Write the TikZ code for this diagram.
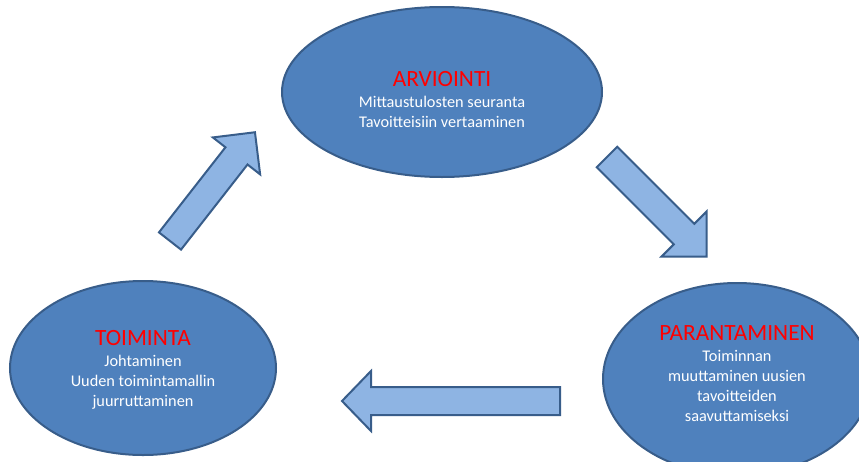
\documentclass[tikz,border=0pt]{standalone}
\usepackage{fontspec}
\setmainfont{Carlito}
\usetikzlibrary{shapes.geometric}
\definecolor{ovalfill}{RGB}{79,129,189}
\definecolor{ovaledge}{RGB}{56,93,138}
\definecolor{arrowfill}{RGB}{142,180,227}
\definecolor{titlered}{RGB}{255,0,0}
\tikzset{
  oval/.style={ellipse, draw=ovaledge, fill=ovalfill, line width=2pt, inner sep=0pt},
  ovaltext/.style={align=center, text=white, font=\fontsize{16.3}{20}\selectfont, inner sep=0pt},
  blockarrow/.style={draw=ovaledge, fill=arrowfill, line width=2pt, line join=miter},
}
% block arrow: #1 tail midpoint, #2 angle, #3 length, #4 head length, #5 head half-width, #6 shaft half-width
\newcommand\blockarrow[6]{%
  \begin{scope}[shift={#1}, rotate=#2]
    \draw[blockarrow] (0,-#6) -- ({#3-#4},-#6) -- ({#3-#4},-#5) -- (#3,0)
      -- ({#3-#4},#5) -- ({#3-#4},#6) -- (0,#6) -- cycle;
  \end{scope}}
\newcommand\ttl[1]{{\fontsize{23.3}{24}\selectfont\color{titlered}#1}}
\begin{document}
\begin{tikzpicture}[x=1pt, y=-1pt]
  \useasboundingbox (0,0) rectangle (859,461);
  \clip (0,0) rectangle (859,461);
  \fill[white] (0,0) rectangle (859,461);

  % the three stages
  \node[oval, minimum width=320pt, minimum height=170pt] (arv) at (442,92) {};
  \node[oval, minimum width=266pt, minimum height=174pt] (toi) at (143,368) {};
  \node[oval, minimum width=268pt, minimum height=192pt] (par) at (737,379) {};

  \node[ovaltext] (arvt) at (442,99) {\ttl{ARVIOINTI}\\[1pt]Mittaustulosten seuranta\\Tavoitteisiin vertaaminen};
  \node[ovaltext] (toit) at (143,370) {\ttl{TOIMINTA}\\[1pt]Johtaminen\\Uuden toimintamallin\\juurruttaminen};
  \node[ovaltext] (part) at (737,374) {\ttl{PARANTAMINEN}\\[1pt]Toiminnan\\muuttaminen uusien\\tavoitteiden\\saavuttamiseksi};

  % cycle arrows
  \blockarrow{(170,241)}{52}{138}{30}{30}{14}
  \blockarrow{(607,157)}{-45}{141}{32}{32}{14.5}
  \blockarrow{(560,401)}{180}{218}{29}{30}{14}
\end{tikzpicture}
\end{document}
